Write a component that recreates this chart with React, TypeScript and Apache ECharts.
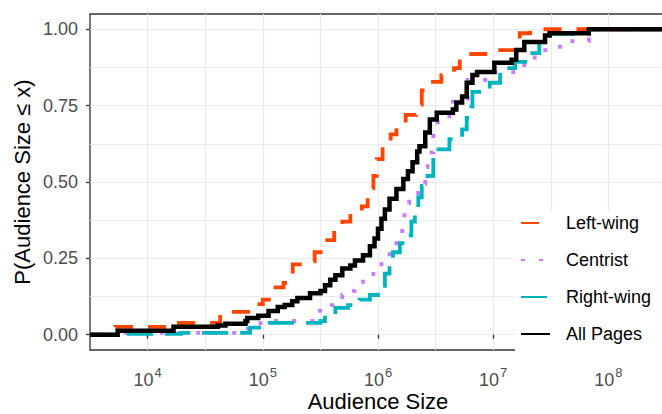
import React, { useEffect, useRef } from "react";
import * as echarts from "echarts";

// Series names (legend order)
const seriesNames = ["Left-wing", "Centrist", "Right-wing", "All Pages"];

// Axis ticks
const xTickExponents = [4, 5, 6, 7, 8]; // 10^4 ... 10^8
const yTickValues = [0, 0.25, 0.5, 0.75, 1];
const yGridValues = [0, 0.125, 0.25, 0.375, 0.5, 0.625, 0.75, 0.875, 1];

// ECDF steps: log10(audience size) where the ECDF jumps, and the value after the jump
const leftLogSize = [3.72, 4.225, 4.63, 4.89, 5.0, 5.11, 5.18, 5.26, 5.35, 5.45, 5.54, 5.62, 5.69, 5.76, 5.86, 5.91, 5.96, 5.99, 6.04, 6.11, 6.16, 6.24, 6.33, 6.38, 6.45, 6.55, 6.66, 6.71, 7.01, 7.23, 7.32];
const leftProb = [0.026, 0.039, 0.075, 0.1, 0.115, 0.155, 0.17, 0.23, 0.24, 0.27, 0.31, 0.34, 0.37, 0.405, 0.42, 0.48, 0.52, 0.575, 0.617, 0.656, 0.695, 0.72, 0.753, 0.8, 0.828, 0.85, 0.873, 0.919, 0.932, 0.987, 1.0];

const centristLogSize = [3.75, 4.8, 4.98, 5.48, 5.6, 5.69, 5.79, 5.87, 5.96, 6.03, 6.1, 6.16, 6.21, 6.23, 6.27, 6.36, 6.41, 6.43, 6.48, 6.62, 6.78, 7.01, 7.27, 7.36, 7.58, 7.83];
const centristProb = [0.006, 0.02, 0.045, 0.078, 0.097, 0.13, 0.143, 0.18, 0.21, 0.25, 0.286, 0.325, 0.364, 0.43, 0.464, 0.494, 0.549, 0.597, 0.695, 0.763, 0.834, 0.86, 0.896, 0.932, 0.961, 1.0];

const rightLogSize = [3.74, 4.29, 4.89, 5.06, 5.5, 5.54, 5.63, 5.74, 5.84, 5.93, 6.0, 6.06, 6.1, 6.13, 6.19, 6.24, 6.29, 6.32, 6.35, 6.38, 6.43, 6.48, 6.62, 6.73, 6.77, 6.81, 6.82, 6.97, 7.06, 7.19, 7.3, 7.4, 7.5, 7.83];
const rightProb = [0.003, 0.006, 0.023, 0.039, 0.045, 0.065, 0.088, 0.097, 0.115, 0.13, 0.16, 0.2, 0.23, 0.27, 0.3, 0.325, 0.37, 0.41, 0.45, 0.487, 0.52, 0.607, 0.64, 0.672, 0.71, 0.747, 0.795, 0.825, 0.873, 0.893, 0.922, 0.958, 0.985, 1.0];

const allLogSize = [3.74, 4.225, 4.61, 4.675, 4.85, 4.865, 4.96, 5.05, 5.13, 5.19, 5.255, 5.3, 5.41, 5.5, 5.54, 5.585, 5.63, 5.69, 5.76, 5.8, 5.87, 5.93, 5.97, 6.0, 6.03, 6.06, 6.1, 6.16, 6.22, 6.26, 6.3, 6.34, 6.36, 6.41, 6.45, 6.51, 6.65, 6.68, 6.73, 6.77, 6.82, 6.86, 7.01, 7.16, 7.2, 7.27, 7.45, 7.49, 7.83];
const allProb = [0.013, 0.026, 0.03, 0.036, 0.045, 0.055, 0.062, 0.078, 0.091, 0.097, 0.11, 0.12, 0.136, 0.143, 0.162, 0.18, 0.195, 0.217, 0.227, 0.243, 0.26, 0.29, 0.315, 0.347, 0.38, 0.41, 0.445, 0.477, 0.51, 0.535, 0.565, 0.6, 0.617, 0.662, 0.705, 0.727, 0.737, 0.76, 0.78, 0.825, 0.85, 0.86, 0.89, 0.9, 0.932, 0.958, 0.98, 0.987, 1.0];

const X_MIN = 3.5;
const X_MAX = 8.5;
const Y_MIN = -0.05;
const Y_MAX = 1.05;

function ecdf(xs: number[], ps: number[]): number[][] {
  const out: number[][] = [[X_MIN, 0]];
  xs.forEach((x, i) => out.push([x, ps[i]]));
  out.push([X_MAX, 1]);
  return out;
}

const FONT = "'Liberation Sans', Arial, sans-serif";

export default function App() {
  const ref = useRef<HTMLDivElement>(null);
  useEffect(() => {
    if (!ref.current) return;
    const chart = echarts.init(ref.current, undefined, { renderer: "svg" });
    const styles = [
      { color: "#FF4500", width: 3.8, type: [18, 15] as any },
      { color: "#C77CFF", width: 3.8, type: [4, 14] as any },
      { color: "#00B5BD", width: 3.8, type: [26, 12] as any },
      { color: "#000000", width: 4.5, type: "solid" as any },
    ];
    const dataSets = [
      ecdf(leftLogSize, leftProb),
      ecdf(centristLogSize, centristProb),
      ecdf(rightLogSize, rightProb),
      ecdf(allLogSize, allProb),
    ];
    chart.setOption({
      animation: false,
      textStyle: { fontFamily: FONT },
      grid: {
        left: 90,
        right: -4,
        top: 14,
        bottom: 64,
        containLabel: false,
        outerBoundsMode: "none",
        show: true,
        borderColor: "#333333",
        borderWidth: 1.3,
        backgroundColor: "transparent",
      },
      xAxis: [
        {
          type: "value",
          min: X_MIN,
          max: X_MAX,
          interval: 0.5,
          axisLine: { show: false },
          axisTick: { show: false },
          axisLabel: { show: false },
          splitLine: { show: true, showMinLine: false, lineStyle: { color: "#EBEBEB", width: 1.2 } },
        },
        {
          type: "value",
          min: X_MIN,
          max: X_MAX,
          position: "bottom",
          axisLine: { show: false },
          axisTick: { show: true, length: 4, customValues: xTickExponents, lineStyle: { color: "#333333", width: 1.3 } },
          axisLabel: {
            show: true,
            customValues: xTickExponents,
            margin: 16,
            color: "#4D4D4D",
            formatter: (v: number) => `{b|10}{s|${v}}`,
            rich: {
              b: { fontSize: 18, fontFamily: FONT, color: "#4D4D4D", verticalAlign: "bottom", lineHeight: 20 },
              s: { fontSize: 13, fontFamily: FONT, color: "#4D4D4D", verticalAlign: "bottom", padding: [0, 0, 10, 1] },
            },
          },
          splitLine: { show: false },
          name: "Audience Size",
          nameLocation: "middle",
          nameGap: 40,
          nameMoveOverlap: false,
          nameTextStyle: { fontSize: 22, lineHeight: 22, color: "#000000", fontFamily: FONT },
        },
      ],
      yAxis: [
        {
          type: "value",
          min: Y_MIN,
          max: Y_MAX,
          axisLine: { show: false },
          axisTick: { show: false, customValues: yGridValues },
          axisLabel: { show: false },
          splitLine: { show: true, lineStyle: { color: "#EBEBEB", width: 1.2 } },
        },
        {
          type: "value",
          min: Y_MIN,
          max: Y_MAX,
          position: "left",
          axisLine: { show: false },
          axisTick: { show: true, length: 4, customValues: yTickValues, lineStyle: { color: "#333333", width: 1.3 } },
          axisLabel: {
            show: true,
            customValues: yTickValues,
            margin: 12,
            fontSize: 18,
            color: "#4D4D4D",
            fontFamily: FONT,
            formatter: (v: number) => v.toFixed(2),
          },
          splitLine: { show: false },
          name: "P(Audience Size \u2264 x)",
          nameLocation: "middle",
          nameRotate: 90,
          nameGap: 57,
          nameMoveOverlap: false,
          nameTextStyle: { fontSize: 22, lineHeight: 22, color: "#000000", fontFamily: FONT },
        },
      ],
      legend: {
        orient: "vertical",
        left: 515,
        top: 212,
        padding: [2, 40, 20, 5],
        backgroundColor: "#FFFFFF",
        itemWidth: 29,
        itemHeight: 18,
        itemGap: 19,
        data: seriesNames,
        itemStyle: { opacity: 0 },
        textStyle: { fontSize: 18, color: "#000000", fontFamily: FONT, padding: [0, 0, 0, 11] },
      },
      series: seriesNames.map((name, i) => ({
        name,
        type: "line",
        xAxisIndex: 0,
        yAxisIndex: 0,
        step: "end",
        symbol: "none",
        showSymbol: false,
        data: dataSets[i],
        lineStyle: { color: styles[i].color, width: styles[i].width, type: styles[i].type, cap: "butt", join: "miter" },
        itemStyle: { color: styles[i].color },
        z: 2 + i,
      })),
    });
    return () => chart.dispose();
  }, []);
  return (
    <div
      ref={ref}
      style={{ position: "absolute", left: 0, top: 0, width: 662, height: 414, background: "#fff" }}
    />
  );
}
